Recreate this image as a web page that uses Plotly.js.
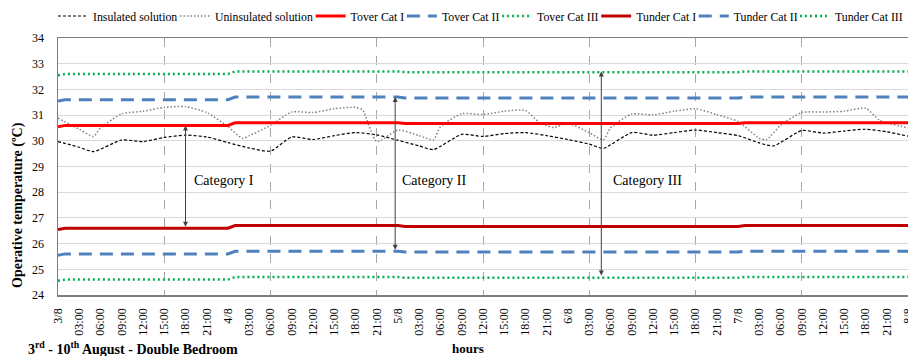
<!DOCTYPE html>
<html>
<head>
<meta charset="utf-8">
<script src="https://cdn.plot.ly/plotly-3.0.1.min.js"></script>
<style>html,body{margin:0;padding:0;background:#fff;}#chart{width:908px;height:356px;}</style>
</head>
<body>
<div id="chart"></div>
<script>
// ---- data ----
const dayLabels = ['3/8','4/8','5/8','6/8','7/8','8/8'];
const hourLabels = ['03:00','06:00','09:00','12:00','15:00','18:00','21:00'];

const insHours = [0,3,5,9,12,15,18,21,24,27,30,33,36,39,42,45,48,51,53,57,60,63,66,69,72,75,77,81,84,87,90,93,96,99,101,105,108,111,114,117,120];
const insulated = [29.97,29.75,29.58,30.03,29.97,30.13,30.22,30.15,29.93,29.72,29.6,30.15,30.05,30.2,30.32,30.23,30.02,29.8,29.66,30.25,30.17,30.28,30.32,30.2,30.05,29.87,29.71,30.32,30.22,30.32,30.42,30.32,30.2,29.92,29.8,30.4,30.3,30.38,30.45,30.35,30.18];

const uninsHours = [0,3,5,6,9,12,15,18,21,24,26,27,30,33,36,39,42,43,45,48,51,53,54,57,60,63,66,68,70,72,75,77,78,81,84,87,90,93,96,99,100,102,105,108,111,114,116,120];
const uninsulated = [30.88,30.45,30.17,30.5,31.05,31.15,31.3,31.33,31.1,30.55,30.1,30.2,30.6,31.12,31.1,31.25,31.3,31.2,29.97,30.42,30.2,30.04,30.55,31.05,31.02,31.15,31.18,30.7,30.52,30.68,30.32,30.04,30.5,31.04,31.01,31.15,31.25,31.02,30.75,30.1,30.04,30.6,31.1,31.12,31.15,31.27,30.8,30.5];

const limHours  = [0, 1, 24, 25, 48, 49, 96, 97, 120];
const toverI    = [30.55,30.6,30.6,30.7,30.7,30.67,30.67,30.7,30.7];
const toverII   = [31.55,31.6,31.6,31.7,31.7,31.67,31.67,31.7,31.7];
const toverIII  = [32.55,32.6,32.6,32.7,32.7,32.67,32.67,32.7,32.7];
const tunderI   = [26.55,26.6,26.6,26.7,26.7,26.67,26.67,26.7,26.7];
const tunderII  = [25.55,25.6,25.6,25.7,25.7,25.67,25.67,25.7,25.7];
const tunderIII = [24.55,24.6,24.6,24.7,24.7,24.67,24.67,24.7,24.7];

const categoryNames = ['Category I','Category II','Category III'];
const categoryHours = [18, 47.6, 76.7];
const categoryTop   = [30.6, 31.7, 32.7];
const categoryBottom= [26.6, 25.7, 24.7];
const categoryTextHours = [23.4, 53.1, 83.2];
const categoryTextY = 28.45;

// ---- build ticks ----
const tickvals = [], ticktext = [];
for (let d = 0; d < dayLabels.length; d++) {
  tickvals.push(d*24); ticktext.push(dayLabels[d]);
  if (d < dayLabels.length-1) {
    for (let k = 0; k < hourLabels.length; k++) { tickvals.push(d*24 + (k+1)*3); ticktext.push(hourLabels[k]); }
  }
}

const FONT = '"Liberation Serif", "Times New Roman", Times, serif';
const blue = '#4F81BD', green = '#00B050';

const traces = [
  {name:'Insulated solution', x:insHours, y:insulated, line:{color:'#000000', width:1.2, dash:'3px,2px', shape:'spline', smoothing:0.6}},
  {name:'Uninsulated solution', x:uninsHours, y:uninsulated, line:{color:'#808080', width:1.5, dash:'1.5px,2px', shape:'spline', smoothing:0.6}},
  {name:'Tover Cat I', x:limHours, y:toverI, line:{color:'#FF0000', width:3}},
  {name:'Tover Cat II', x:limHours, y:toverII, line:{color:blue, width:3, dash:'13px,8px'}},
  {name:'Tover Cat III', x:limHours, y:toverIII, line:{color:green, width:2.5, dash:'2px,3px'}},
  {name:'Tunder Cat I', x:limHours, y:tunderI, line:{color:'#C00000', width:3}},
  {name:'Tunder Cat II', x:limHours, y:tunderII, line:{color:blue, width:3, dash:'13px,8px'}},
  {name:'Tunder Cat III', x:limHours, y:tunderIII, line:{color:green, width:2.5, dash:'2px,3px'}}
].map((t,i)=>Object.assign({type:'scatter', mode:'lines', hoverinfo:'skip', legend: i===0?'legend':'legend'+(i+1)}, t));

// ---- layout ----
const plotL = 58, plotW = 850, plotT = 38, plotH = 257;
const LEG_SIZE = 11.8;
const legStart = 95, legEnd = 905;
const ctx = document.createElement('canvas').getContext('2d');
ctx.font = LEG_SIZE + 'px ' + FONT;
const widths = traces.map(t => ctx.measureText(t.name).width);
const totalW = widths.reduce((a,b)=>a+b,0);
const gap = (legEnd - legStart - totalW) / (traces.length - 1);

const layout = {
  width:908, height:356,
  margin:{l:plotL, r:908-plotL-plotW, t:plotT, b:356-plotT-plotH},
  paper_bgcolor:'#fff', plot_bgcolor:'#fff',
  font:{family:FONT, size:12, color:'#000'},
  showlegend:true,
  xaxis:{range:[0,120], tickmode:'array', tickvals:tickvals, ticktext:ticktext, tickangle:-90,
    tickfont:{family:FONT, size:12, color:'#000'}, showgrid:false, zeroline:false,
    showline:true, linecolor:'#7f7f7f', linewidth:1.5, mirror:true, ticks:'', ticklabelstandoff:7,
    ticklabeloverflow:'allow',
    minor:{tickmode:'linear', tick0:0, dtick:15, showgrid:true, gridcolor:'#a6a6a6', griddash:'dash', gridwidth:1, ticks:''}},
  yaxis:{range:[24,34], dtick:1, tickfont:{family:FONT, size:12, color:'#000'}, showgrid:true, gridcolor:'#d9d9d9', gridwidth:1,
    zeroline:false, showline:true, linecolor:'#7f7f7f', linewidth:1.5, ticks:'', ticklabelstandoff:10},
  annotations:[],
};
let textX = legStart;
for (let i = 0; i < traces.length; i++) {
  const key = i===0 ? 'legend' : 'legend'+(i+1);
  layout[key] = {x:(textX-42-plotL)/plotW, xanchor:'left', y:1+(plotT-16)/plotH, yanchor:'middle',
    orientation:'h', font:{family:FONT, size:LEG_SIZE, color:'#000'}, bgcolor:'rgba(0,0,0,0)', itemwidth:30, borderwidth:0};
  textX += widths[i] + gap;
}
for (let i = 0; i < categoryNames.length; i++) {
  layout.annotations.push({x:categoryHours[i], y:categoryTop[i], ax:categoryHours[i], ay:categoryBottom[i], xref:'x', yref:'y', axref:'x', ayref:'y',
    text:'', showarrow:true, arrowhead:2, arrowside:'end+start', arrowsize:1, arrowwidth:1, arrowcolor:'#404040', standoff:0, startstandoff:0});
  layout.annotations.push({x:categoryTextHours[i], y:categoryTextY, xref:'x', yref:'y', text:categoryNames[i], showarrow:false,
    font:{family:FONT, size:14, color:'#000'}});
}
// y-axis title (placed like the reference, not centred on the plot)
layout.annotations.push({x:(18-plotL)/plotW, y:(plotT+plotH-205)/plotH, xref:'paper', yref:'paper', xanchor:'center', yanchor:'middle',
  textangle:-90, showarrow:false, text:'Operative temperature (ºC)', font:{family:FONT, size:14, color:'#000', weight:'bold'}});
layout.annotations.push({x:(26-plotL)/plotW, y:-(348-plotT-plotH)/plotH, xref:'paper', yref:'paper', xanchor:'left', yanchor:'middle', showarrow:false,
  text:'3<sup>rd</sup> - 10<sup>th</sup> August - Double Bedroom', font:{family:FONT, size:14, color:'#000', weight:'bold'}});
layout.annotations.push({x:(468-plotL)/plotW, y:-(348-plotT-plotH)/plotH, xref:'paper', yref:'paper', xanchor:'center', yanchor:'middle', showarrow:false,
  text:'hours', font:{family:FONT, size:13, color:'#000', weight:'bold'}});

Plotly.newPlot('chart', traces, layout, {displayModeBar:false, staticPlot:true});
</script>
</body>
</html>
